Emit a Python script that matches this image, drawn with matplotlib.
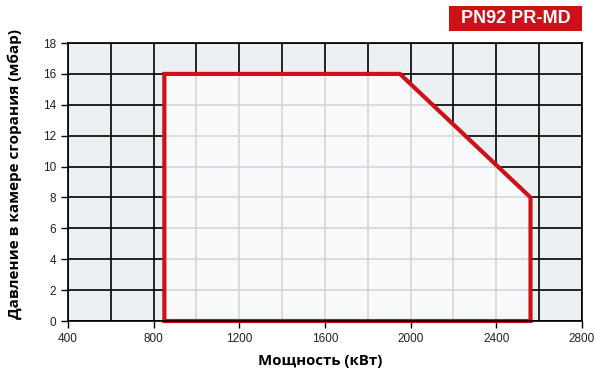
import matplotlib.pyplot as plt
import matplotlib.patches as mpatches
import numpy as np

# ------------------------------------------------------------
# Data: working field of the burner
# ------------------------------------------------------------

POWER_KW = [850, 850, 1950, 2560, 2560]
PRESSURE_MBAR = [0, 16, 16, 8, 0]

X_TICKS = [400, 800, 1200, 1600, 2000, 2400, 2800]
Y_TICKS = [0, 2, 4, 6, 8, 10, 12, 14, 16, 18]

TITLE = "PN92 PR-MD"
X_LABEL = "Мощность (кВт)"
Y_LABEL = "Давление в камере сгорания (мбар)"

# ------------------------------------------------------------
# Colours
# ------------------------------------------------------------

RED = "#cc1118"
CELL_BG = "#edf0f3"
INSIDE_BG = "#f8f9fb"
INSIDE_GRID = "#d6d6d6"

plt.rcParams["font.family"] = ["Liberation Sans", "DejaVu Sans"]

fig = plt.figure(figsize=(5.95, 3.74), dpi=100)
ax = fig.add_axes([0.1143, 0.1417, 0.8637, 0.7433])

x_min, x_max = X_TICKS[0], X_TICKS[-1]
y_min, y_max = Y_TICKS[0], Y_TICKS[-1]
ax.set_xlim(x_min, x_max)
ax.set_ylim(y_min, y_max)
ax.set_facecolor(CELL_BG)

x_grid = np.arange(x_min, x_max + 1, 200)
y_grid = np.array(Y_TICKS)

# black grid everywhere
for xv in x_grid:
    ax.axvline(xv, color="black", lw=1.2, zorder=1)
for yv in y_grid:
    ax.axhline(yv, color="black", lw=1.2, zorder=1)

# working field fill
poly = mpatches.Polygon(list(zip(POWER_KW, PRESSURE_MBAR)), closed=True,
                        facecolor=INSIDE_BG, edgecolor="none", zorder=2)
ax.add_patch(poly)

# light grid inside field
for xv in x_grid:
    ln = ax.axvline(xv, color=INSIDE_GRID, lw=1.2, zorder=3)
    ln.set_clip_path(poly)
for yv in y_grid:
    ln = ax.axhline(yv, color=INSIDE_GRID, lw=1.2, zorder=3)
    ln.set_clip_path(poly)

# red outline
ax.add_patch(mpatches.Polygon(list(zip(POWER_KW, PRESSURE_MBAR)), closed=True,
                              facecolor="none", edgecolor=RED, lw=3,
                              joinstyle="miter", zorder=4, clip_on=False))

ax.set_xticks(X_TICKS)
ax.set_yticks(Y_TICKS)
ax.tick_params(axis="both", direction="out", length=5, width=1,
               labelsize=8.5, labelcolor="#222222", color="black")
for sp in ax.spines.values():
    sp.set_linewidth(1.2)
    sp.set_zorder(5)

label_font = dict(family=["Open Sans", "DejaVu Sans"], fontweight="bold")
ax.set_xlabel(X_LABEL, fontsize=10.8, **label_font)
ax.set_ylabel(Y_LABEL, fontsize=11, **label_font)
ax.xaxis.set_label_coords(0.49, -0.12)
ax.yaxis.set_label_coords(-0.09, 0.53)

# title badge
fig.patches.append(mpatches.Rectangle((449 / 595, 1 - 31 / 374), 133 / 595, 25 / 374,
                                      transform=fig.transFigure, facecolor=RED,
                                      edgecolor="none"))
fig.text(515.5 / 595, 1 - 18.5 / 374, TITLE, ha="center", va="center",
         fontsize=13, fontweight="bold", color="white")

fig.savefig("out.png", dpi=100)
